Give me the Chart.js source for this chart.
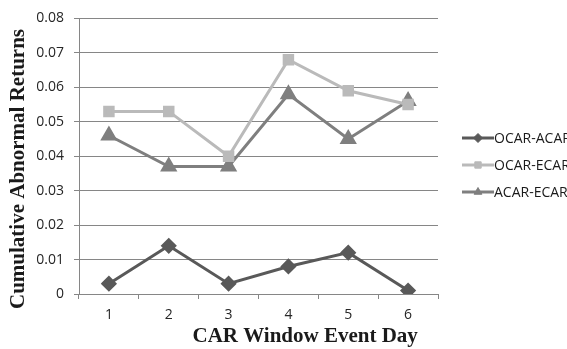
<!DOCTYPE html>
<html><head><meta charset="utf-8">
<script src="https://cdn.jsdelivr.net/npm/chart.js@4/dist/chart.umd.min.js"></script>
<style>html,body{margin:0;padding:0;background:#fff;overflow:hidden}#wrap{width:567px;height:349px;position:relative}</style>
</head><body><div id="wrap"><canvas id="c" width="567" height="349"></canvas></div>
<script>
const categories = ["1","2","3","4","5","6"];
const ocarAcar = [0.003, 0.014, 0.003, 0.008, 0.012, 0.001];
const ocarEcar = [0.053, 0.053, 0.040, 0.068, 0.059, 0.055];
const acarEcar = [0.046, 0.037, 0.037, 0.058, 0.045, 0.056];
const seriesNames = ["OCAR-ACAR", "OCAR-ECAR", "ACAR-ECAR"];
const yTitle = "Cumulative Abnormal Returns";
const xTitle = "CAR Window Event Day";

const tickFont = {family: "'Open Sans', sans-serif", size: 14};

const titlesPlugin = {
  id: 'titles',
  afterDraw(chart) {
    const ctx = chart.ctx, a = chart.chartArea;
    ctx.save();
    ctx.fillStyle = '#1a1a1a';
    ctx.font = "bold 21px 'Liberation Serif', 'Times New Roman', serif";
    ctx.textAlign = 'center';
    ctx.textBaseline = 'middle';
    ctx.fillText(xTitle, a.left + (a.right - a.left) * 0.63, 337);
    ctx.translate(19, 169);
    ctx.rotate(-Math.PI / 2);
    ctx.fillText(yTitle, 0, 0);
    ctx.restore();
  }
};

const legendPlugin = {
  id: 'customLegend',
  afterDraw(chart) {
    const ctx = chart.ctx;
    const ys = [138, 165, 192];
    chart.data.datasets.forEach((ds, i) => {
      const y = ys[i];
      ctx.save();
      ctx.strokeStyle = ds.borderColor;
      ctx.lineWidth = 3;
      ctx.beginPath(); ctx.moveTo(462, y); ctx.lineTo(494, y); ctx.stroke();
      ctx.fillStyle = ds.pointBackgroundColor;
      ctx.strokeStyle = ds.pointBackgroundColor;
      ctx.lineWidth = 1;
      Chart.helpers.drawPoint(ctx, {pointStyle: ds.pointStyle, radius: 4.5, rotation: 0, borderWidth: 1}, 478, y);
      ctx.fillStyle = '#1a1a1a';
      ctx.font = "14px 'Open Sans', sans-serif";
      ctx.textAlign = 'left';
      ctx.textBaseline = 'middle';
      ctx.fillText(ds.label, 494, y + 1);
      ctx.restore();
    });
  }
};

new Chart(document.getElementById('c'), {
  type: 'line',
  data: {
    labels: categories,
    datasets: [
      {label: seriesNames[0], data: ocarAcar, borderColor: '#595959', backgroundColor: '#595959', pointBackgroundColor: '#595959', pointBorderColor: '#595959', borderWidth: 3, pointStyle: 'rectRot', pointRadius: 6, tension: 0},
      {label: seriesNames[1], data: ocarEcar, borderColor: '#bababa', backgroundColor: '#bababa', pointBackgroundColor: '#bababa', pointBorderColor: '#bababa', borderWidth: 3, pointStyle: 'rect', pointRadius: 6, tension: 0},
      {label: seriesNames[2], data: acarEcar, borderColor: '#7f7f7f', backgroundColor: '#7f7f7f', pointBackgroundColor: '#7f7f7f', pointBorderColor: '#7f7f7f', borderWidth: 3, pointStyle: 'triangle', pointRadius: 7, tension: 0}
    ]
  },
  options: {
    responsive: false,
    animation: false,
    layout: {padding: {left: 0, right: 129, top: 15, bottom: 0}},
    plugins: {legend: {display: false}, tooltip: {enabled: false}},
    scales: {
      x: {
        offset: true,
        grid: {offset: true, drawOnChartArea: false, drawTicks: true, tickLength: 5, color: '#868686', lineWidth: 1},
        border: {display: true, color: '#868686', width: 1},
        ticks: {font: tickFont, color: '#262626', padding: 8},
        afterFit(s) { s.height = 55; }
      },
      y: {
        min: 0, max: 0.08,
        grid: {color: '#868686', lineWidth: 1, tickLength: 5},
        border: {display: true, color: '#868686', width: 1},
        ticks: {stepSize: 0.01, font: tickFont, color: '#262626', padding: 10,
          callback: v => v === 0 ? '0' : v.toFixed(2)},
        afterFit(s) { s.width = 79; }
      }
    }
  },
  plugins: [titlesPlugin, legendPlugin]
});
</script></body></html>
